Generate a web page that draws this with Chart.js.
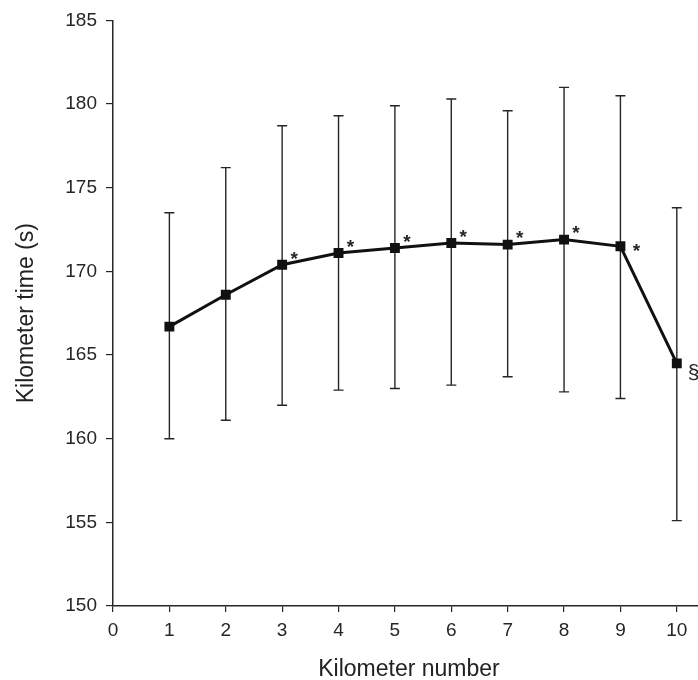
<!DOCTYPE html>
<html>
<head>
<meta charset="utf-8">
<script src="https://cdn.jsdelivr.net/npm/chart.js@4.4.1/dist/chart.umd.min.js"></script>
<style>
  html, body { margin: 0; padding: 0; background: #fff; overflow: hidden; }
  #wrap { position: absolute; left: 0; top: 0; width: 720px; height: 683px; }
</style>
</head>
<body>
<div id="wrap"><canvas id="chart"></canvas></div>
<script>
// values
const kilometers = [1, 2, 3, 4, 5, 6, 7, 8, 9, 10];
const meanTime = [166.7, 168.6, 170.4, 171.1, 171.4, 171.7, 171.6, 171.9, 171.5, 164.5];
const upperBound = [173.5, 176.2, 178.7, 179.3, 179.9, 180.3, 179.6, 181.0, 180.5, 173.8];
const lowerBound = [160.0, 161.1, 162.0, 162.9, 163.0, 163.2, 163.7, 162.8, 162.4, 155.1];
const marks = ["", "", "*", "*", "*", "*", "*", "*", "*", "§"];
const xTicks = [0, 1, 2, 3, 4, 5, 6, 7, 8, 9, 10];
const yTicks = [150, 155, 160, 165, 170, 175, 180, 185];

const ink = "#262626";
const fontFamily = "'Liberation Sans', Arial, sans-serif";

// vertical SD bars with small caps, drawn under the line
const errorBars = {
  id: "errorBars",
  beforeDatasetsDraw(chart) {
    const { ctx, scales: { x, y } } = chart;
    ctx.save();
    ctx.strokeStyle = ink;
    ctx.lineWidth = 1.4;
    kilometers.forEach((km, i) => {
      const px = x.getPixelForValue(km);
      const top = y.getPixelForValue(upperBound[i]);
      const bot = y.getPixelForValue(lowerBound[i]);
      ctx.beginPath();
      ctx.moveTo(px, top);
      ctx.lineTo(px, bot);
      ctx.moveTo(px - 5, top);
      ctx.lineTo(px + 5, top);
      ctx.moveTo(px - 5, bot);
      ctx.lineTo(px + 5, bot);
      ctx.stroke();
    });
    ctx.restore();
  },
};

// significance marks next to the points
const markLabels = {
  id: "markLabels",
  afterDatasetsDraw(chart) {
    const { ctx, scales: { x, y } } = chart;
    ctx.save();
    ctx.fillStyle = ink;
    marks.forEach((m, i) => {
      if (!m) return;
      const px = x.getPixelForValue(kilometers[i]);
      const py = y.getPixelForValue(meanTime[i]);
      if (m === "*") {
        const size = 19;
        let dx = 12, dy = -11;
        if (i === 8) { dx = 16; dy = 0; } // line drops after km 9
        ctx.font = "bold " + size + "px " + fontFamily;
        ctx.textAlign = "center";
        ctx.textBaseline = "alphabetic";
        ctx.fillText(m, px + dx, py + dy + size * 0.57);
      } else {
        ctx.font = "21px " + fontFamily;
        ctx.textAlign = "left";
        ctx.textBaseline = "middle";
        ctx.fillText(m, px + 11, py + 10);
      }
    });
    ctx.restore();
  },
};

new Chart(document.getElementById("chart"), {
  type: "line",
  data: {
    datasets: [
      {
        data: kilometers.map((km, i) => ({ x: km, y: meanTime[i] })),
        borderColor: "#111",
        borderWidth: 3,
        pointStyle: "rect",
        pointRadius: 7,
        pointBackgroundColor: "#111",
        pointBorderColor: "#111",
        pointBorderWidth: 0,
        tension: 0,
        fill: false,
      },
    ],
  },
  options: {
    responsive: true,
    maintainAspectRatio: false,
    animation: false,
    layout: { padding: { top: 19, right: 15, bottom: 0, left: 0 } },
    plugins: {
      legend: { display: false },
      tooltip: { enabled: false },
    },
    scales: {
      x: {
        type: "linear",
        min: 0,
        max: 10.5,
        afterBuildTicks: (scale) => {
          scale.ticks = xTicks.map((v) => ({ value: v }));
        },
        afterFit: (scale) => { scale.height = 77; },
        grid: { display: true, drawOnChartArea: false, drawTicks: true, tickLength: 6, color: ink, lineWidth: 1.2 },
        border: { display: true, color: ink, width: 1.5 },
        ticks: { color: ink, padding: 7, maxRotation: 0, font: { family: fontFamily, size: 19 } },
        title: {
          display: true,
          text: "Kilometer number",
          color: "#222",
          padding: { top: 0, bottom: 0 },
          font: { family: fontFamily, size: 23 },
        },
      },
      y: {
        type: "linear",
        min: 150,
        max: 185,
        afterBuildTicks: (scale) => {
          scale.ticks = yTicks.map((v) => ({ value: v }));
        },
        afterFit: (scale) => { scale.width = 113; },
        grid: { display: true, drawOnChartArea: false, drawTicks: true, tickLength: 7, color: ink, lineWidth: 1.2 },
        border: { display: true, color: ink, width: 1.5 },
        ticks: { color: ink, padding: 9, font: { family: fontFamily, size: 19 } },
        title: {
          display: true,
          text: "Kilometer time (s)",
          color: "#222",
          padding: { top: 13, bottom: 0 },
          font: { family: fontFamily, size: 23 },
        },
      },
    },
  },
  plugins: [errorBars, markLabels],
});
</script>
</body>
</html>
